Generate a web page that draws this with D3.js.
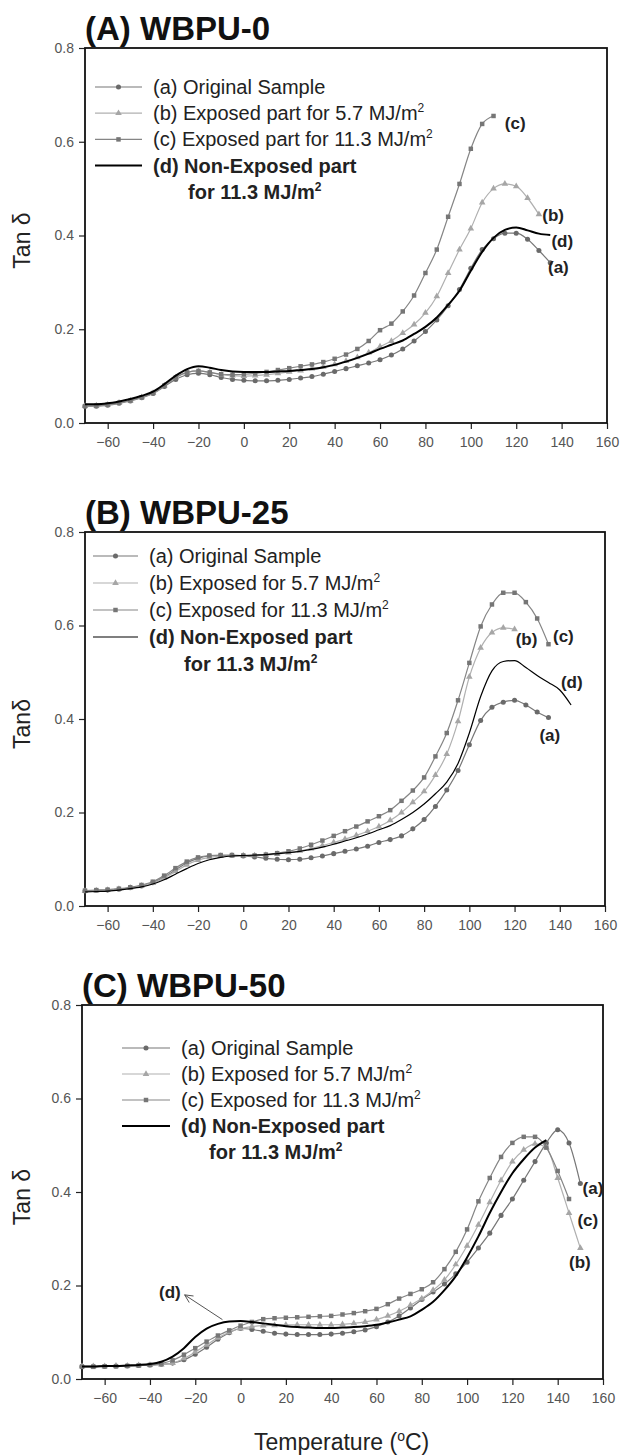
<!DOCTYPE html>
<html><head><meta charset="utf-8">
<script src="https://cdn.jsdelivr.net/npm/d3@7"></script>
<style>
body{margin:0;background:#fff}
svg{display:block}
text{font-family:"Liberation Sans",Arial,sans-serif}
</style>
</head><body>
<svg id="chart" width="620" height="1455"></svg>
<script>
// ---------- data ----------
const temps = [-70,-65,-60,-55,-50,-45,-40,-35,-30,-25,-20,-15,-10,-5,0,5,10,15,20,25,30,35,40,45,50,55,60,65,70,75,80,85,90,95,100,105,110,115,120,125,130,135,140,145,150];
const xTicks = [-60,-40,-20,0,20,40,60,80,100,120,140,160];
const yTicks = [0.0,0.2,0.4,0.6,0.8];

// Panel A: WBPU-0
const A_a = [.036,.036,.038,.042,.047,.054,.063,.078,.093,.103,.106,.103,.097,.093,.091,.090,.090,.091,.093,.096,.099,.104,.110,.116,.122,.128,.135,.145,.158,.175,.195,.220,.250,.285,.330,.370,.393,.405,.405,.392,.368,.342];
const A_b = [.036,.037,.039,.043,.048,.055,.064,.080,.097,.108,.111,.108,.103,.101,.100,.101,.103,.106,.109,.112,.116,.120,.125,.132,.140,.150,.163,.175,.192,.210,.235,.270,.320,.370,.415,.470,.500,.510,.505,.480,.445];
const A_c = [.036,.037,.039,.043,.048,.055,.064,.080,.097,.108,.111,.108,.104,.103,.104,.106,.109,.113,.117,.121,.125,.130,.137,.146,.158,.175,.198,.212,.238,.272,.320,.370,.440,.510,.585,.638,.655];
const A_d = [.040,.040,.042,.046,.051,.058,.067,.083,.101,.115,.121,.118,.113,.110,.109,.109,.109,.110,.111,.113,.115,.119,.124,.131,.139,.148,.158,.167,.176,.190,.205,.225,.252,.282,.325,.365,.395,.412,.417,.411,.404,.401];

// Panel B: WBPU-25
const B_a = [.032,.033,.034,.036,.039,.043,.050,.062,.077,.092,.102,.107,.108,.108,.107,.105,.102,.100,.099,.100,.103,.107,.112,.117,.122,.128,.136,.142,.150,.165,.185,.213,.248,.290,.345,.397,.425,.436,.440,.430,.415,.403];
const B_b = [.032,.033,.034,.036,.039,.043,.049,.060,.074,.088,.098,.104,.107,.108,.108,.108,.109,.111,.114,.118,.123,.129,.136,.143,.151,.160,.170,.183,.200,.222,.245,.280,.325,.395,.490,.552,.585,.595,.592];
const B_c = [.033,.034,.035,.037,.040,.045,.052,.065,.081,.095,.104,.108,.109,.109,.108,.108,.110,.113,.117,.123,.131,.140,.150,.160,.170,.181,.192,.205,.225,.247,.275,.320,.370,.440,.520,.598,.645,.670,.670,.650,.615,.560];
const B_d = [.030,.031,.032,.034,.037,.041,.047,.056,.068,.080,.091,.099,.104,.107,.108,.109,.110,.112,.114,.117,.121,.126,.132,.139,.146,.154,.163,.172,.185,.200,.218,.240,.265,.305,.370,.448,.503,.523,.525,.510,.493,.478,.462,.430];

// Panel C: WBPU-50
const C_a = [.027,.027,.027,.028,.028,.029,.030,.031,.034,.041,.053,.068,.085,.099,.108,.106,.102,.098,.096,.095,.095,.095,.096,.098,.101,.105,.112,.122,.135,.152,.170,.186,.203,.225,.250,.280,.312,.350,.385,.425,.465,.505,.533,.505,.418];
const C_b = [.027,.027,.027,.028,.028,.029,.030,.031,.034,.044,.058,.073,.088,.100,.108,.112,.114,.115,.116,.116,.116,.116,.116,.117,.119,.122,.127,.135,.145,.158,.172,.190,.212,.245,.285,.330,.378,.425,.465,.490,.503,.495,.430,.355,.280];
const C_c = [.026,.026,.027,.027,.028,.029,.030,.033,.040,.052,.066,.080,.093,.104,.114,.122,.128,.130,.131,.132,.133,.134,.135,.138,.141,.145,.150,.160,.172,.182,.192,.207,.235,.272,.320,.380,.430,.475,.505,.518,.518,.495,.445,.385];
const C_d = [.027,.027,.028,.028,.029,.030,.032,.037,.048,.066,.090,.108,.118,.123,.124,.122,.119,.116,.113,.111,.110,.109,.109,.110,.111,.113,.116,.121,.127,.134,.148,.165,.190,.220,.260,.305,.355,.400,.440,.470,.495,.511];

const legendA = ["(a) Original Sample","(b) Exposed part for 5.7 MJ/m","(c) Exposed part for 11.3 MJ/m","(d) Non-Exposed part","for 11.3 MJ/m"];
const legendBC = ["(a) Original Sample","(b) Exposed for 5.7 MJ/m","(c) Exposed for 11.3 MJ/m","(d) Non-Exposed part","for 11.3 MJ/m"];

// end labels [text, T, value]
const labelsA = [["(c)",115,0.64],["(b)",131.5,0.444],["(d)",135.5,0.388],["(a)",134,0.333]];
const labelsB = [["(b)",120.5,0.571],["(c)",137,0.578],["(d)",140.5,0.48],["(a)",131,0.366]];
const labelsC = [["(a)",151,0.408],["(c)",148.7,0.34],["(b)",145,0.25]];

// ---------- styles ----------
const styles = {
  a:{color:"#6a6a6a", line:"#777", sym:d3.symbolCircle, size:20, w:1.2},
  b:{color:"#a6a6a6", line:"#b0b0b0", sym:d3.symbolTriangle, size:19, w:1.2},
  c:{color:"#767676", line:"#858585", sym:d3.symbolSquare, size:20, w:1.2},
  d:{color:"#000", line:"#000", sym:null, size:0, w:2}
};

const panels = [
  {title:"(A) WBPU-0", ylabel:"Tan δ", left:85, right:607, top:48, bottom:423, series:{a:A_a,b:A_b,c:A_c,d:A_d}, dW:2,
   legend:legendA, legX:95, legX2:142, legTx:153, legY0:87, legDy:26.2, forX:188, labels:labelsA},
  {title:"(B) WBPU-25", ylabel:"Tanδ", left:85, right:605, top:532, bottom:906, series:{a:B_a,b:B_b,c:B_c,d:B_d}, dW:1.2,
   legend:legendBC, legX:93, legX2:138, legTx:149, legY0:556, legDy:27, forX:184, labels:labelsB},
  {title:"(C) WBPU-50", ylabel:"Tan δ", left:82, right:603, top:1005, bottom:1379, series:{a:C_a,b:C_b,c:C_c,d:C_d}, dW:2,
   legend:legendBC, legX:122, legX2:170, legTx:181, legY0:1048, legDy:26, forX:209, labels:labelsC}
];

const svg = d3.select("#chart");

panels.forEach((p,pi)=>{
  const g = svg.append("g");
  const x = d3.scaleLinear().domain([-70,160]).range([p.left,p.right]);
  const y = d3.scaleLinear().domain([0,0.8]).range([p.bottom,p.top]);

  // title
  g.append("text").attr("x",p.left).attr("y",p.top-8)
    .attr("font-size",33).attr("font-weight","bold").attr("fill","#111").text(p.title);

  // axes
  const xa = g.append("g").attr("transform",`translate(0,${p.bottom})`)
    .call(d3.axisBottom(x).tickValues(xTicks).tickSize(6).tickPadding(8).tickFormat(d3.format("d")));
  const ya = g.append("g").attr("transform",`translate(${p.left},0)`)
    .call(d3.axisLeft(y).tickValues(yTicks).tickSize(6).tickPadding(5).tickFormat(d3.format(".1f")));
  [xa,ya].forEach(a=>{
    a.select(".domain").remove();
    a.selectAll(".tick line").attr("stroke","#222").attr("stroke-width",1.2);
    a.selectAll(".tick text").attr("font-size",14).attr("fill","#555")
      .attr("font-family","Liberation Sans, Arial, sans-serif");
  });
  g.append("rect").attr("x",p.left).attr("y",p.top)
    .attr("width",p.right-p.left).attr("height",p.bottom-p.top)
    .attr("fill","none").attr("stroke","#111").attr("stroke-width",1.8);

  // y label
  g.append("text").attr("transform",`translate(30,${(p.top+p.bottom)/2 + 5}) rotate(-90)`)
    .attr("text-anchor","middle").attr("font-size",23).attr("fill","#222").text(p.ylabel);

  // series
  ["a","b","c","d"].forEach(k=>{
    const vals = p.series[k];
    const pts = vals.map((v,i)=>[temps[i],v]);
    const st = styles[k];
    const line = d3.line().x(d=>x(d[0])).y(d=>y(d[1])).curve(d3.curveMonotoneX);
    g.append("path").datum(pts).attr("d",line).attr("fill","none")
      .attr("stroke",st.line).attr("stroke-width",k==="d"?p.dW:st.w);
    if(st.sym){
      g.selectAll(null).data(pts).enter().append("path")
        .attr("transform",d=>`translate(${x(d[0])},${y(d[1])})`)
        .attr("d",d3.symbol().type(st.sym).size(st.size)).attr("fill",st.color);
    }
  });

  // end labels
  p.labels.forEach(l=>{
    g.append("text").attr("x",x(l[1])).attr("y",y(l[2])).attr("dy","0.35em")
      .attr("font-size",17).attr("font-weight","bold").attr("fill","#222").text(l[0]);
  });

  // legend
  const keys = ["a","b","c","d"];
  keys.forEach((k,i)=>{
    const yy = p.legY0 + i*p.legDy;
    const st = styles[k];
    g.append("line").attr("x1",p.legX).attr("x2",p.legX2).attr("y1",yy).attr("y2",yy)
      .attr("stroke",st.line).attr("stroke-width",k==="d"?p.dW:st.w);
    if(st.sym){
      g.append("path").attr("transform",`translate(${(p.legX+p.legX2)/2},${yy})`)
        .attr("d",d3.symbol().type(st.sym).size(st.size)).attr("fill",st.color);
    }
    const t = g.append("text").attr("x",p.legTx).attr("y",yy+7).attr("font-size",20)
      .attr("fill","#222").attr("font-weight",k==="d"?"bold":"normal").text(p.legend[i]);
    if(i===1||i===2){
      t.append("tspan").attr("font-size",12).attr("dy",-8).text("2");
    }
  });
  const yy5 = p.legY0 + 4*p.legDy;
  const t5 = g.append("text").attr("x",p.forX).attr("y",yy5+7).attr("font-size",20)
    .attr("font-weight","bold").attr("fill","#222").text(p.legend[4]);
  t5.append("tspan").attr("font-size",12).attr("dy",-8).text("2");

  // annotation arrow in panel C
  if(pi===2){
    g.append("text").attr("x",x(-36)).attr("y",y(0.187)).attr("dy","0.35em")
      .attr("font-size",17).attr("font-weight","bold").attr("fill","#222").text("(d)");
    const x1=x(-8), y1=y(0.127), x2=x(-24.7), y2=y(0.18);
    g.append("line").attr("x1",x1).attr("y1",y1).attr("x2",x2).attr("y2",y2)
      .attr("stroke","#555").attr("stroke-width",1);
    const ang = Math.atan2(y1-y2,x1-x2);
    const L=9, sp=0.45;
    g.append("path").attr("d",`M${x2+L*Math.cos(ang+sp)},${y2+L*Math.sin(ang+sp)}L${x2},${y2}L${x2+L*Math.cos(ang-sp)},${y2+L*Math.sin(ang-sp)}`)
      .attr("fill","none").attr("stroke","#555").attr("stroke-width",1);
  }

  // x label under last panel
  if(pi===2){
    const tl = g.append("text").attr("x",254).attr("y",1450)
      .attr("font-size",23).attr("fill","#222").text("Temperature (");
    tl.append("tspan").attr("font-size",14).attr("dy",-9).text("o");
    tl.append("tspan").attr("dy",9).text("C)");
  }
});
</script>
</body></html>
